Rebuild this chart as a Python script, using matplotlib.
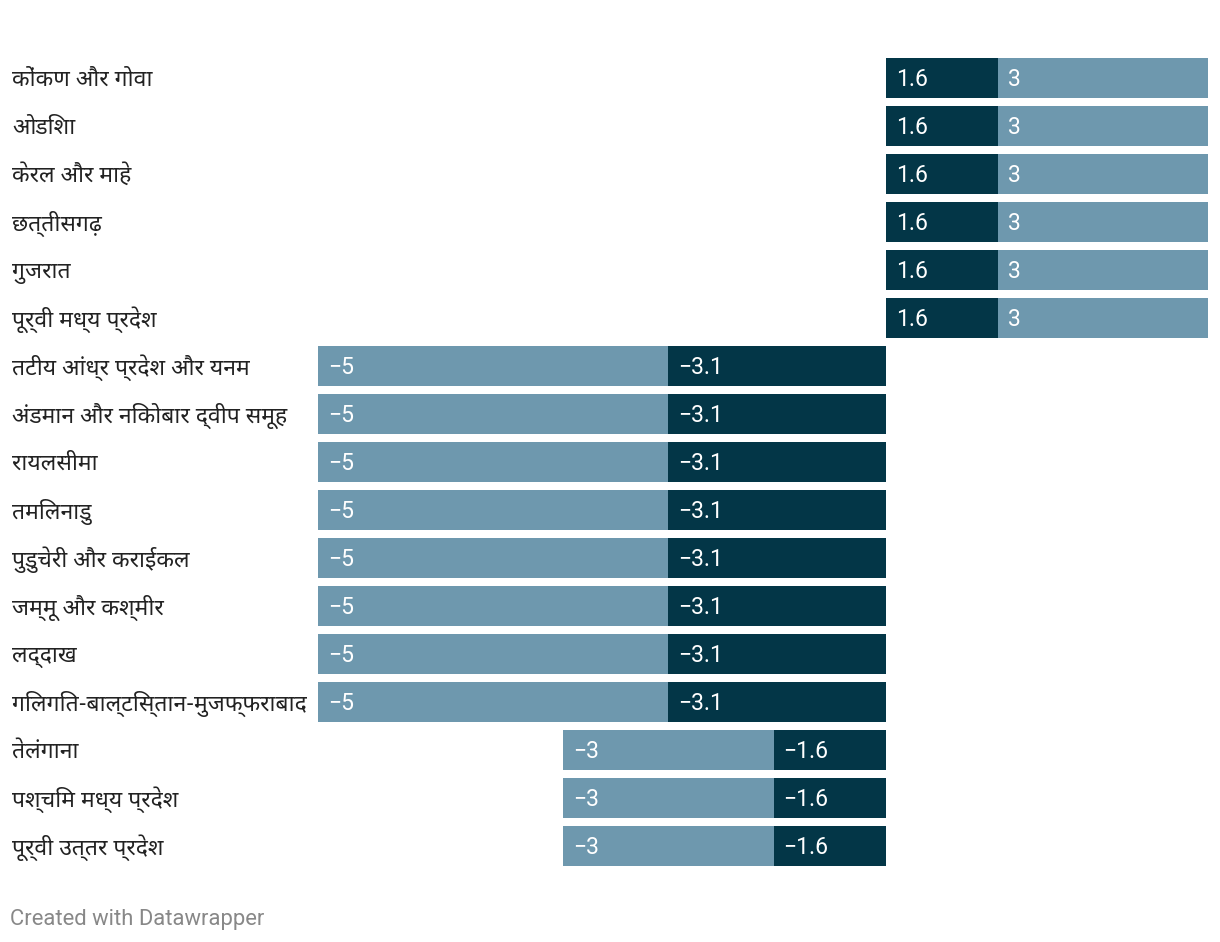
import matplotlib
matplotlib.use("Agg")
import matplotlib.pyplot as plt

# ---- data ----
regions = [
    "कोंकण और गोवा", "ओडिशा", "केरल और माहे", "छत्तीसगढ़", "गुजरात",
    "पूर्वी मध्य प्रदेश", "तटीय आंध्र प्रदेश और यनम", "अंडमान और निकोबार द्वीप समूह",
    "रायलसीमा", "तमिलनाडु", "पुडुचेरी और कराईकल", "जम्मू और कश्मीर", "लद्दाख",
    "गिलगित-बाल्टिस्तान-मुजफ्फराबाद", "तेलंगाना", "पश्चिम मध्य प्रदेश", "पूर्वी उत्तर प्रदेश",
]
dark_vals = [1.6, 1.6, 1.6, 1.6, 1.6, 1.6, -3.1, -3.1, -3.1, -3.1, -3.1, -3.1, -3.1, -3.1, -1.6, -1.6, -1.6]
light_vals = [3, 3, 3, 3, 3, 3, -5, -5, -5, -5, -5, -5, -5, -5, -3, -3, -3]

DARK = "#033647"
LIGHT = "#6e98ae"
label_family = ["Noto Sans Devanagari", "Roboto", "DejaVu Sans"]

W, H = 1220, 942
fig = plt.figure(figsize=(W / 100, H / 100), dpi=100)
ax = fig.add_axes([318 / W, (H - 866) / H, (1208 - 318) / W, 808 / H])
n = len(regions)
ax.set_xlim(-8.1, 4.6)
ax.set_ylim(n - 1 + 0.4167, -0.4167)
ax.axis("off")

ys = list(range(n))
bh = 40 / 48
ax.barh(ys, dark_vals, height=bh, color=DARK, left=0)
ax.barh(ys, light_vals, height=bh, color=LIGHT, left=dark_vals)

px = 12.7 / 890  # data units per pixel
def fmt(v):
    return f"{v:g}".replace("-", "−")

for i in range(n):
    d, l = dark_vals[i], light_vals[i]
    if d >= 0:
        dx, lx = 0, d
    else:
        dx, lx = d, d + l
    for x0, v in ((dx, d), (lx, l)):
        ax.text(x0 + 10 * px, i + 0.03, fmt(v), color="white", va="center", ha="left",
                fontsize=16.5, family="Roboto")
    fig.text(12 / W, 1 - (80 + 48 * i) / H, regions[i], va="center", ha="left",
             fontsize=16.5, color="#222222", family=label_family)

fig.text(10 / W, 1 - 920 / H, "Created with Datawrapper", va="center", ha="left",
         fontsize=15.8, color="#888888", family="Roboto")

fig.savefig("out.png", dpi=100)
